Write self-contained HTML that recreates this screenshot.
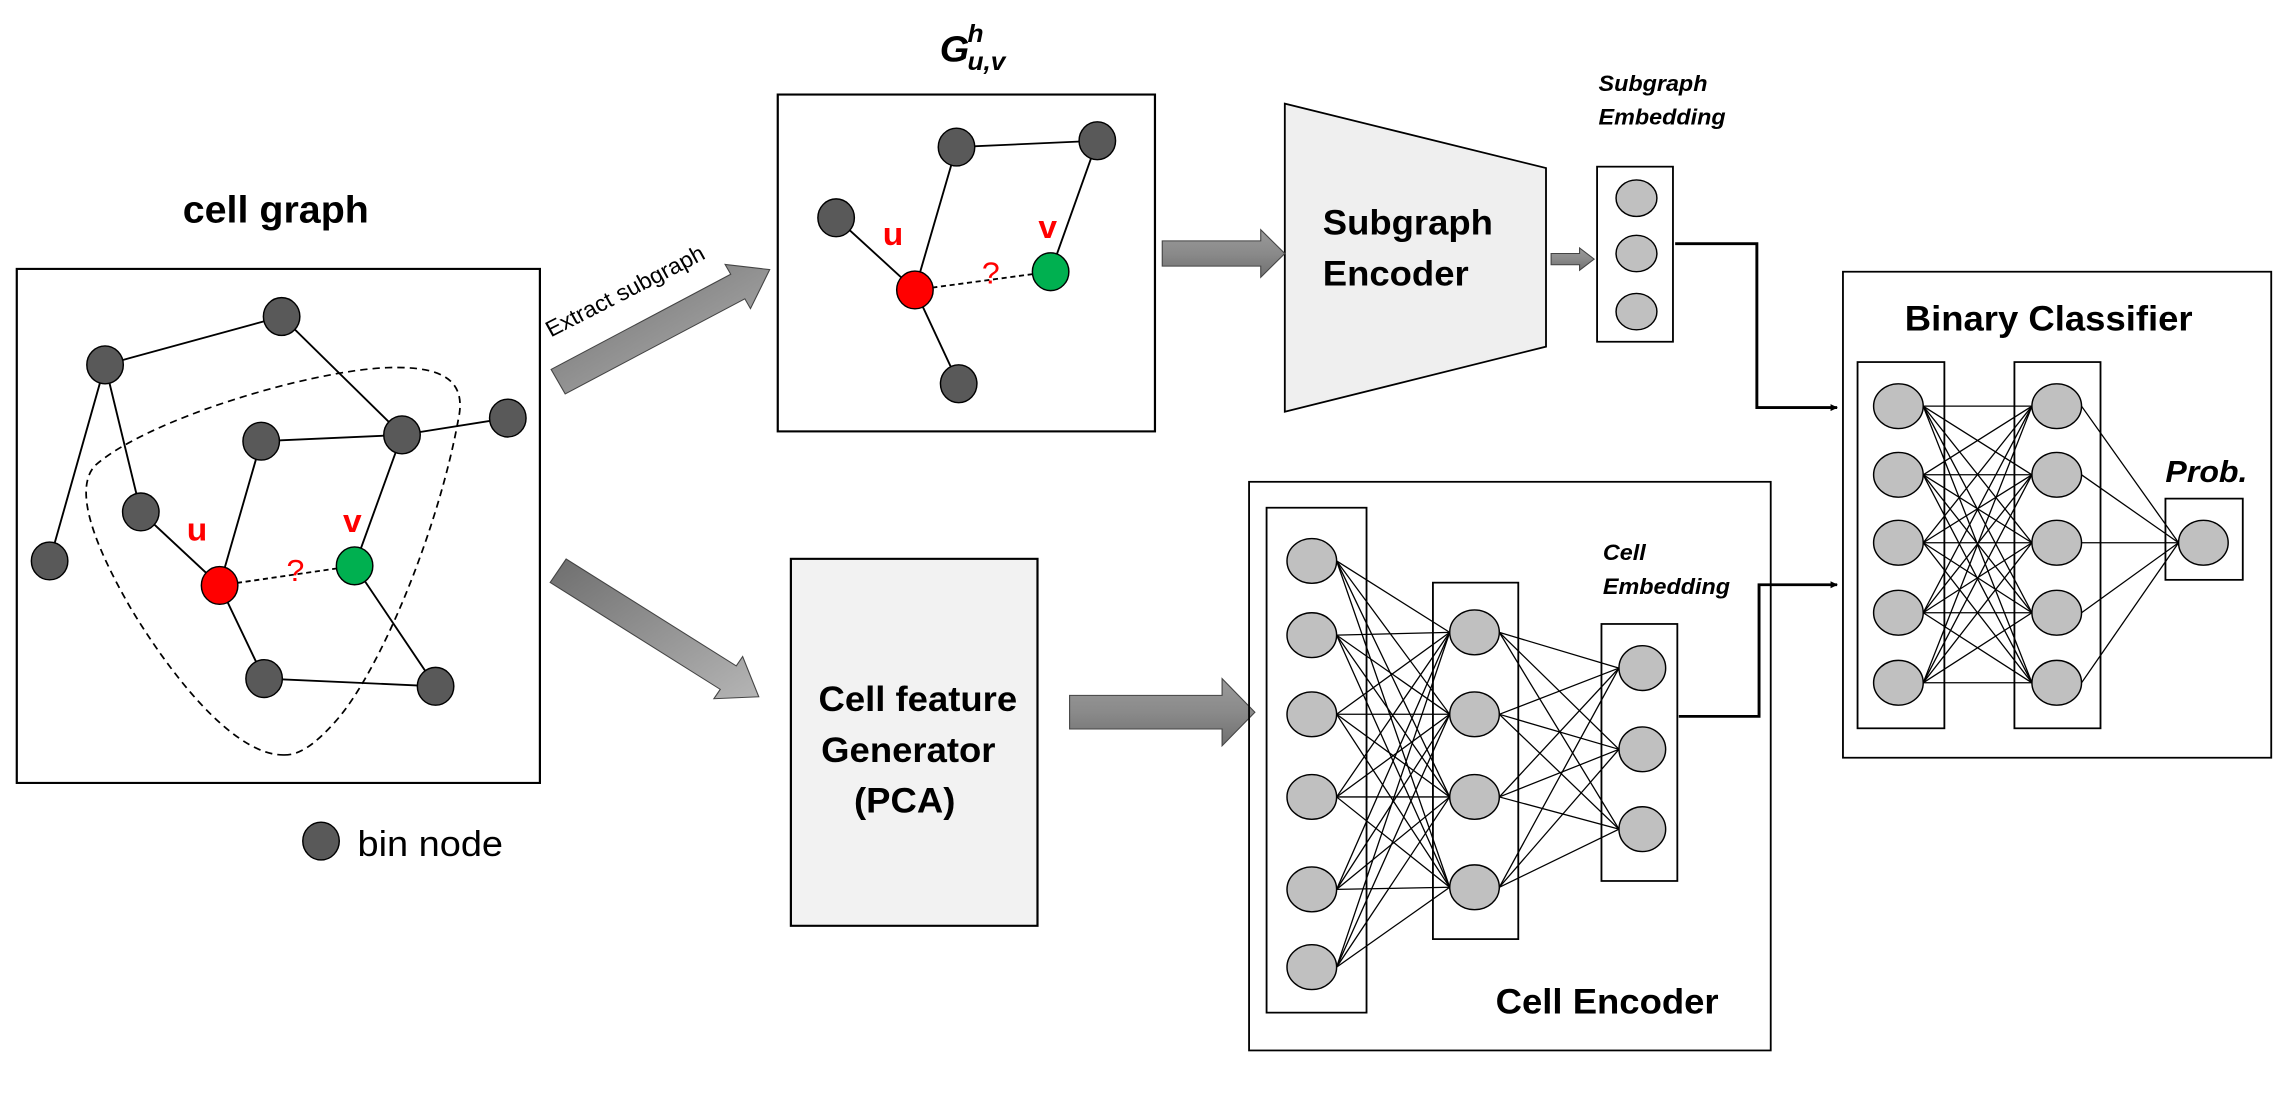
<!DOCTYPE html>
<html><head><meta charset="utf-8"><style>
html,body{margin:0;padding:0;background:#fff;}
svg{display:block;}
text{font-family:"Liberation Sans",sans-serif;}
</style></head><body>
<svg id="s" width="2288" height="1098" viewBox="0 0 2288 1098" xmlns="http://www.w3.org/2000/svg">
<defs>
<linearGradient id="ga" x1="0" y1="0" x2="1" y2="1"><stop offset="0" stop-color="#6e6e6e"/><stop offset="1" stop-color="#b5b5b5"/></linearGradient>
<linearGradient id="gb" x1="0" y1="0" x2="0" y2="1"><stop offset="0" stop-color="#9a9a9a"/><stop offset="0.5" stop-color="#8a8a8a"/><stop offset="1" stop-color="#707070"/></linearGradient>
<marker id="mk" markerWidth="10" markerHeight="10" refX="9" refY="5" orient="auto" markerUnits="userSpaceOnUse"><path d="M0,0 L10,5 L0,10 z" fill="#000"/></marker>
</defs>
<g id="L" transform="scale(0.7296,0.7003)">
<text x="378" y="318" font-size="54" font-weight="bold" text-anchor="middle">cell graph</text>
<rect x="23" y="384" width="717" height="734" fill="none" stroke="#000" stroke-width="3"/>
<path d="M390,1078 C330,1080 250,990 180,870 C130,780 100,700 130,665 C200,600 420,530 530,525 C610,522 640,545 628,600 C600,760 520,960 460,1030 C430,1065 410,1078 390,1078 Z" fill="none" stroke="#000" stroke-width="2.4" stroke-dasharray="10,7"/>
<g id="Le" stroke="#000" stroke-width="2.6"></g>
<g id="Ln"></g>
<text x="270" y="772" font-size="46" font-weight="bold" fill="#f00" text-anchor="middle">u</text>
<text x="483" y="760" font-size="46" font-weight="bold" fill="#f00" text-anchor="middle">v</text>
<text x="405" y="830" font-size="44" fill="#f00" text-anchor="middle">?</text>
<ellipse cx="440" cy="1201" rx="25" ry="27" fill="#595959" stroke="#000" stroke-width="2"/>
<text x="490" y="1222" font-size="52">bin node</text>
<text x="0" y="0" font-size="32" transform="translate(755,482) rotate(-28)">Extract subgraph</text>
<g id="La"></g>
<rect x="1066" y="135" width="517" height="481" fill="none" stroke="#000" stroke-width="3"/>
<text x="1288" y="88" font-size="52" font-weight="bold" font-style="italic" font-family="Liberation Serif,serif">G</text>
<text x="1326" y="60" font-size="36" font-weight="bold" font-style="italic" font-family="Liberation Serif,serif">h</text>
<text x="1326" y="100" font-size="36" font-weight="bold" font-style="italic" font-family="Liberation Serif,serif">u,v</text>
<text x="1224" y="350" font-size="46" font-weight="bold" fill="#f00" text-anchor="middle">u</text>
<text x="1436" y="340" font-size="46" font-weight="bold" fill="#f00" text-anchor="middle">v</text>
<text x="1358" y="405" font-size="44" fill="#f00" text-anchor="middle">?</text>
<rect x="1084" y="798" width="338" height="524" fill="#f2f2f2" stroke="#000" stroke-width="3"/>
<text x="1258" y="1015" font-size="50" font-weight="bold" text-anchor="middle">Cell feature</text>
<text x="1245" y="1088" font-size="50" font-weight="bold" text-anchor="middle">Generator</text>
<text x="1240" y="1160" font-size="50" font-weight="bold" text-anchor="middle">(PCA)</text>
</g>
<g id="R" transform="translate(1144,0) scale(0.7296,0.7003)">
<polygon points="193,148 551,240 551,495 193,588" fill="#efefef" stroke="#000" stroke-width="2.5"/>
<text x="245" y="335" font-size="50" font-weight="bold">Subgraph</text>
<text x="245" y="408" font-size="50" font-weight="bold">Encoder</text>
<g id="Ra"></g>
<rect x="621" y="238" width="104" height="250" fill="none" stroke="#000" stroke-width="2.5"/>
<text x="623" y="130" font-size="32" font-weight="bold" font-style="italic">Subgraph</text>
<text x="623" y="178" font-size="32" font-weight="bold" font-style="italic">Embedding</text>
<polyline points="728,348 840,348 840,582 950,582" fill="none" stroke="#000" stroke-width="4" marker-end="url(#mk)"/>
<rect x="958" y="388" width="587" height="694" fill="none" stroke="#000" stroke-width="2.5"/>
<text x="1240" y="472" font-size="50" font-weight="bold" text-anchor="middle">Binary Classifier</text>
<rect x="978" y="517" width="119" height="523" fill="none" stroke="#000" stroke-width="2.5"/>
<rect x="1193" y="517" width="118" height="523" fill="none" stroke="#000" stroke-width="2.5"/>
<rect x="1400" y="712" width="106" height="116" fill="none" stroke="#000" stroke-width="2.5"/>
<text x="1400" y="688" font-size="44" font-weight="bold" font-style="italic">Prob.</text>
<polyline points="733,1023 843,1023 843,835 950,835" fill="none" stroke="#000" stroke-width="4" marker-end="url(#mk)"/>
<rect x="144" y="688" width="715" height="812" fill="none" stroke="#000" stroke-width="2.5"/>
<text x="482" y="1447" font-size="50" font-weight="bold">Cell Encoder</text>
<rect x="168" y="725" width="137" height="721" fill="none" stroke="#000" stroke-width="2.5"/>
<rect x="396" y="832" width="117" height="509" fill="none" stroke="#000" stroke-width="2.5"/>
<rect x="627" y="891" width="104" height="367" fill="none" stroke="#000" stroke-width="2.5"/>
<text x="629" y="800" font-size="32" font-weight="bold" font-style="italic">Cell</text>
<text x="629" y="848" font-size="32" font-weight="bold" font-style="italic">Embedding</text>
<g id="Rl" stroke="#000" stroke-width="1.8"></g>
<g id="Rn"></g>
</g>
</svg>
<script>
var NS="http://www.w3.org/2000/svg";
function el(p,t,a){var e=document.createElementNS(NS,t);for(var k in a)e.setAttribute(k,a[k]);document.getElementById(p).appendChild(e);return e;}
function line(p,a,b,extra){var o={x1:a[0],y1:a[1],x2:b[0],y2:b[1]};for(var k in extra)o[k]=extra[k];el(p,"line",o);}
function node(p,c,fill,rx,ry){el(p,"ellipse",{cx:c[0],cy:c[1],rx:rx,ry:ry,fill:fill,stroke:"#000","stroke-width":2});}
function arrow(p,s,e,w,hw,hl,fill){
 var dx=e[0]-s[0],dy=e[1]-s[1],L=Math.sqrt(dx*dx+dy*dy),ux=dx/L,uy=dy/L,nx=-uy,ny=ux;
 var bx=e[0]-ux*hl,by=e[1]-uy*hl;
 var pts=[[s[0]+nx*w,s[1]+ny*w],[bx+nx*w,by+ny*w],[bx+nx*hw,by+ny*hw],e,[bx-nx*hw,by-ny*hw],[bx-nx*w,by-ny*w],[s[0]-nx*w,s[1]-ny*w]];
 el(p,"polygon",{points:pts.map(function(q){return q.join(",")}).join(" "),fill:fill,stroke:"#444","stroke-width":1.5});}
var N={a:[144,521],b:[386,452],c:[696,597],d:[358,630],e:[551,621],f:[193,731],g:[68,801],u:[301,836],v:[486,808],h:[362,969],i:[597,980]};
[["a","b"],["b","e"],["a","g"],["a","f"],["f","u"],["d","e"],["e","c"],["d","u"],["e","v"],["u","h"],["h","i"],["v","i"]].forEach(function(p){line("Le",N[p[0]],N[p[1]]);});
line("Le",N.u,N.v,{"stroke-dasharray":"7,5"});
for(var k in N){node("Ln",N[k],k=="u"?"#ff0000":k=="v"?"#00b050":"#595959",25,27);}
var S={a:[1311,210],b:[1504,201],c:[1146,311],u:[1254,414],v:[1440,388],d:[1314,548]};
[["a","b"],["b","v"],["a","u"],["c","u"],["u","d"]].forEach(function(p){line("Le",S[p[0]],S[p[1]]);});
line("Le",S.u,S.v,{"stroke-dasharray":"7,5"});
for(var k in S){node("Ln",S[k],k=="u"?"#ff0000":k=="v"?"#00b050":"#595959",25,27);}
arrow("La",[765,545],[1055,385],20,36,50,"url(#ga)");
arrow("La",[765,815],[1040,995],20,36,50,"url(#ga)");
arrow("La",[1466,1017],[1720,1017],24,48,45,"url(#gb)");
arrow("Ra",[25,362],[193,362],18,34,33,"url(#gb)");
arrow("Ra",[558,370],[617,370],8,16,20,"url(#gb)");
var L1=[801,907,1020,1138,1270,1381].map(function(y){return[230,y]});
var L2=[903,1020,1138,1267].map(function(y){return[453,y]});
var L3=[954,1070,1184].map(function(y){return[683,y]});
L1.forEach(function(a){L2.forEach(function(b){line("Rl",[a[0]+34,a[1]],[b[0]-34,b[1]]);});});
L2.forEach(function(a){L3.forEach(function(b){line("Rl",[a[0]+34,a[1]],[b[0]-32,b[1]]);});});
var B1=[580,678,775,875,975].map(function(y){return[1034,y]});
var B2=[580,678,775,875,975].map(function(y){return[1251,y]});
B1.forEach(function(a){B2.forEach(function(b){line("Rl",[a[0]+34,a[1]],[b[0]-34,b[1]]);});});
B2.forEach(function(a){line("Rl",[a[0]+34,a[1]],[1418,775]);});
L1.concat(L2).forEach(function(c){node("Rn",c,"#c0c0c0",34,32);});
L3.forEach(function(c){node("Rn",c,"#c0c0c0",32,32);});
B1.concat(B2).forEach(function(c){node("Rn",c,"#c0c0c0",34,32);});
node("Rn",[1452,775],"#c0c0c0",34,32);
[[675,283],[675,362],[675,445]].forEach(function(c){node("Rn",c,"#c0c0c0",28,26);});
</script>
</body></html>
